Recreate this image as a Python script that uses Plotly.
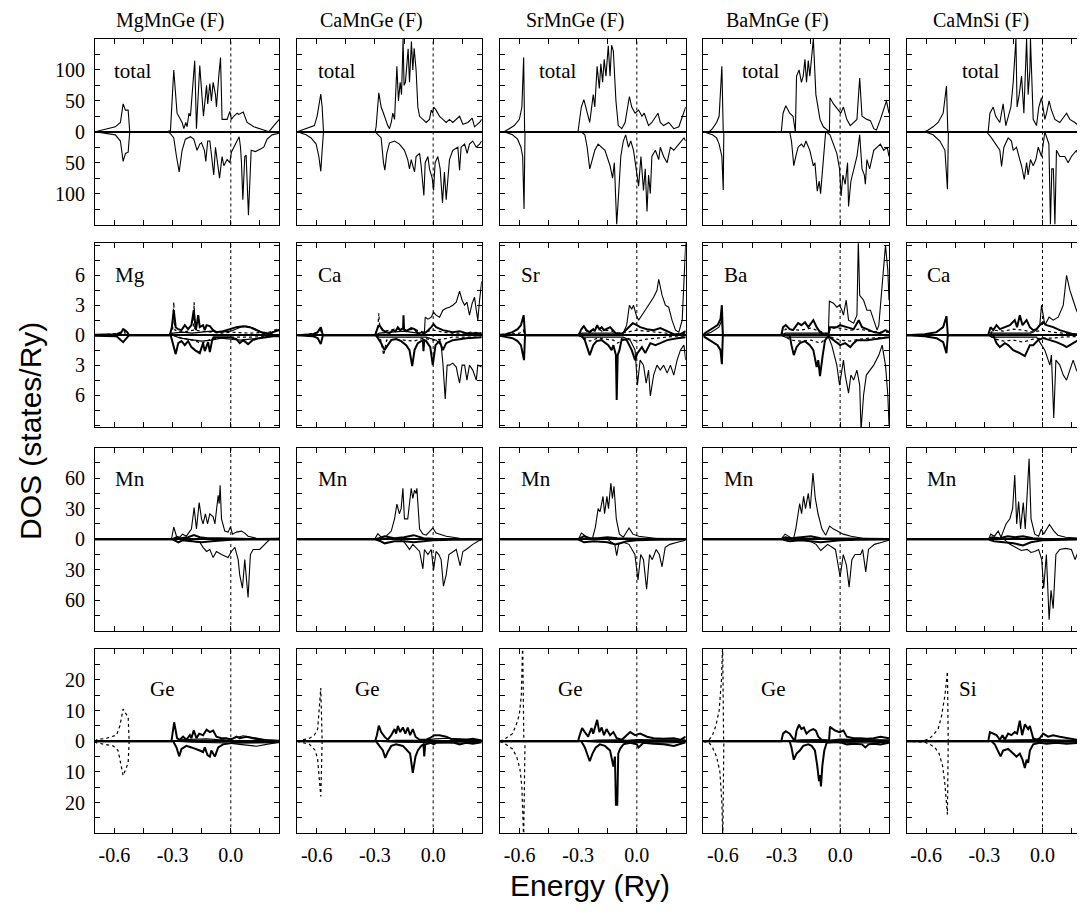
import plotly.graph_objects as go

# ---------------- labels ----------------
compounds = ["MgMnGe (F)", "CaMnGe (F)", "SrMnGe (F)", "BaMnGe (F)", "CaMnSi (F)"]
a_labels = ["Mg", "Ca", "Sr", "Ba", "Ca"]
x_labels = ["Ge", "Ge", "Ge", "Ge", "Si"]
x_tick_vals = [-0.6, -0.45, -0.3, -0.15, 0.0, 0.15]
x_tick_text = ["-0.6", "", "-0.3", "", "0.0", ""]
y_limits = [150, 9.2, 90, 30]
y_minor_steps = [25, 1.5, 15, 5]
y_labelled = [[0, 50, 100], [0, 3, 6], [0, 30, 60], [0, 10, 20]]

# ---------------- data: (energy Ry, DOS states/Ry); *_dn are spin-down magnitudes ----------------
# total DOS
tot_mg_up = [(-0.70,0),(-0.595,8),(-0.569,15),(-0.555,45),(-0.543,35),(-0.529,35),(-0.521,0),(-0.328,0),(-0.311,2),(-0.294,100),(-0.277,30),(-0.251,15),(-0.242,5),(-0.232,15),(-0.225,8),(-0.216,30),(-0.208,25),(-0.186,115),(-0.177,5),(-0.160,107),(-0.141,25),(-0.125,75),(-0.119,45),(-0.108,78),(-0.100,50),(-0.091,80),(-0.079,60),(-0.074,40),(-0.062,90),(-0.053,120),(-0.045,20),(-0.019,20),(-0.005,33),(0.003,20),(0.015,25),(0.033,30),(0.041,28),(0.064,32),(0.084,15),(0.119,8),(0.170,3),(0.196,0),(0.222,10),(0.25,20)]
tot_mg_dn = [(-0.70,0),(-0.595,5),(-0.569,15),(-0.555,48),(-0.543,35),(-0.529,33),(-0.521,0),(-0.328,0),(-0.311,3),(-0.294,10),(-0.280,40),(-0.266,65),(-0.251,30),(-0.234,12),(-0.208,8),(-0.191,12),(-0.174,30),(-0.160,20),(-0.151,18),(-0.136,30),(-0.129,48),(-0.119,15),(-0.108,15),(-0.088,70),(-0.079,25),(-0.070,50),(-0.058,75),(-0.045,40),(-0.036,55),(-0.019,45),(-0.005,50),(0.003,33),(0.015,25),(0.033,12),(0.043,8),(0.050,25),(0.055,50),(0.062,110),(0.072,40),(0.079,38),(0.084,70),(0.091,135),(0.105,30),(0.127,32),(0.153,28),(0.170,25),(0.187,12),(0.213,5),(0.253,2)]
tot_ca_up = [(-0.70,0),(-0.655,5),(-0.629,8),(-0.612,10),(-0.598,25),(-0.588,45),(-0.579,61),(-0.572,40),(-0.565,0),(-0.299,0),(-0.294,8),(-0.280,63),(-0.268,40),(-0.256,30),(-0.246,20),(-0.234,10),(-0.225,5),(-0.216,15),(-0.208,30),(-0.199,20),(-0.187,106),(-0.179,50),(-0.170,80),(-0.163,60),(-0.155,150),(-0.150,75),(-0.143,80),(-0.129,134),(-0.122,80),(-0.112,146),(-0.105,100),(-0.098,135),(-0.088,100),(-0.079,40),(-0.070,25),(-0.053,20),(-0.036,15),(-0.019,20),(-0.010,35),(-0.002,30),(0.003,40),(0.015,35),(0.033,25),(0.050,20),(0.067,15),(0.084,20),(0.101,15),(0.136,25),(0.153,12),(0.179,15),(0.201,22),(0.213,8),(0.239,15),(0.25,20)]
tot_ca_dn = [(-0.70,0),(-0.655,5),(-0.629,10),(-0.603,20),(-0.589,40),(-0.579,64),(-0.572,30),(-0.565,0),(-0.299,0),(-0.285,5),(-0.268,10),(-0.256,50),(-0.249,62),(-0.239,35),(-0.225,18),(-0.199,15),(-0.174,20),(-0.148,30),(-0.131,45),(-0.122,60),(-0.113,45),(-0.105,55),(-0.096,65),(-0.088,40),(-0.070,35),(-0.062,55),(-0.048,103),(-0.041,50),(-0.027,40),(-0.019,60),(-0.005,75),(0.002,95),(0.010,50),(0.024,40),(0.036,60),(0.048,115),(0.058,65),(0.067,110),(0.076,70),(0.084,45),(0.101,30),(0.127,25),(0.136,62),(0.144,25),(0.162,20),(0.175,35),(0.187,20),(0.204,15),(0.222,25),(0.239,20),(0.25,15)]
tot_sr_up = [(-0.70,0),(-0.679,0),(-0.653,5),(-0.627,10),(-0.601,20),(-0.588,40),(-0.579,120),(-0.574,0),(-0.301,0),(-0.284,40),(-0.271,52),(-0.258,35),(-0.241,15),(-0.223,60),(-0.215,40),(-0.203,106),(-0.192,70),(-0.184,110),(-0.175,80),(-0.167,117),(-0.158,90),(-0.146,139),(-0.137,90),(-0.129,140),(-0.120,130),(-0.107,50),(-0.095,10),(-0.077,5),(-0.060,15),(-0.038,57),(-0.026,40),(-0.009,30),(0.009,35),(0.026,25),(0.038,30),(0.060,10),(0.077,15),(0.108,30),(0.120,15),(0.137,10),(0.163,15),(0.189,5),(0.215,8),(0.25,40)]
tot_sr_dn = [(-0.70,0),(-0.679,0),(-0.636,5),(-0.610,12),(-0.593,25),(-0.584,40),(-0.577,125),(-0.572,0),(-0.284,0),(-0.266,5),(-0.254,25),(-0.241,60),(-0.232,50),(-0.215,30),(-0.198,20),(-0.180,25),(-0.163,30),(-0.137,55),(-0.124,75),(-0.115,50),(-0.103,150),(-0.093,100),(-0.082,40),(-0.069,15),(-0.057,5),(-0.043,25),(-0.031,15),(-0.017,30),(-0.009,50),(0.009,88),(0.021,40),(0.034,95),(0.043,60),(0.052,129),(0.060,70),(0.069,100),(0.077,40),(0.095,30),(0.112,45),(0.120,25),(0.137,40),(0.155,50),(0.172,25),(0.189,30),(0.215,20),(0.241,10),(0.25,15)]
tot_ba_up = [(-0.70,0),(-0.670,0),(-0.653,5),(-0.632,15),(-0.619,25),(-0.605,106),(-0.598,0),(-0.301,0),(-0.292,30),(-0.278,42),(-0.258,30),(-0.241,25),(-0.229,0),(-0.223,90),(-0.210,100),(-0.198,80),(-0.189,90),(-0.180,117),(-0.172,80),(-0.163,115),(-0.155,90),(-0.137,150),(-0.124,60),(-0.103,20),(-0.086,8),(-0.069,3),(-0.055,0),(-0.052,55),(-0.034,45),(-0.009,35),(0.003,30),(0.017,40),(0.034,20),(0.052,10),(0.069,15),(0.086,20),(0.100,87),(0.112,25),(0.137,20),(0.155,18),(0.172,5),(0.186,3),(0.206,20),(0.237,50),(0.25,30)]
tot_ba_dn = [(-0.70,0),(-0.653,5),(-0.632,10),(-0.619,20),(-0.605,40),(-0.598,94),(-0.595,0),(-0.258,0),(-0.249,15),(-0.237,55),(-0.227,40),(-0.215,25),(-0.198,20),(-0.186,25),(-0.175,15),(-0.155,30),(-0.137,55),(-0.129,50),(-0.117,96),(-0.107,80),(-0.100,100),(-0.089,60),(-0.082,30),(-0.074,0),(-0.052,5),(-0.034,20),(-0.017,35),(-0.003,60),(0.005,104),(0.014,70),(0.026,85),(0.038,50),(0.043,121),(0.055,80),(0.069,60),(0.086,40),(0.100,5),(0.112,60),(0.124,70),(0.129,85),(0.137,45),(0.151,60),(0.172,30),(0.189,25),(0.206,20),(0.223,30),(0.241,25),(0.25,40)]
tot_si_up = [(-0.70,0),(-0.607,0),(-0.589,3),(-0.564,8),(-0.538,15),(-0.512,30),(-0.495,74),(-0.488,0),(-0.280,0),(-0.271,30),(-0.254,40),(-0.241,25),(-0.220,15),(-0.203,45),(-0.189,10),(-0.177,25),(-0.163,40),(-0.151,80),(-0.137,150),(-0.131,40),(-0.120,60),(-0.108,90),(-0.096,30),(-0.082,150),(-0.074,60),(-0.065,100),(-0.062,150),(-0.048,20),(-0.031,10),(-0.019,40),(-0.005,55),(0.012,20),(0.021,30),(0.034,50),(0.046,35),(0.064,20),(0.089,15),(0.124,30),(0.141,20),(0.167,15),(0.192,8),(0.22,10)]
tot_si_dn = [(-0.70,0),(-0.607,0),(-0.564,5),(-0.529,15),(-0.503,30),(-0.490,93),(-0.485,0),(-0.289,0),(-0.263,10),(-0.241,20),(-0.220,30),(-0.211,56),(-0.199,25),(-0.177,10),(-0.160,15),(-0.151,30),(-0.134,25),(-0.117,45),(-0.108,55),(-0.094,77),(-0.082,50),(-0.074,70),(-0.062,45),(-0.048,55),(-0.034,45),(-0.022,25),(-0.005,40),(0.012,0),(0.021,10),(0.033,20),(0.041,150),(0.048,60),(0.056,60),(0.064,150),(0.072,30),(0.089,40),(0.115,40),(0.132,50),(0.149,40),(0.175,30),(0.192,45),(0.210,20),(0.22,10)]

# alkaline-earth site (p thick, d thin, s dotted)
a_mg_p_up = [(-0.70,0.05),(-0.589,0.1),(-0.564,0.3),(-0.555,0.6),(-0.546,0.5),(-0.534,0.3),(-0.524,0),(-0.314,0),(-0.304,0.8),(-0.294,2.5),(-0.284,0.8),(-0.271,0.6),(-0.254,0.5),(-0.237,1.0),(-0.220,0.6),(-0.203,1.0),(-0.191,2.5),(-0.180,0.5),(-0.168,2.0),(-0.160,0.8),(-0.143,1.0),(-0.134,0.5),(-0.125,1.0),(-0.108,0.9),(-0.091,0.5),(-0.074,0.3),(-0.040,0.4),(-0.005,0.6),(0.029,0.8),(0.064,0.9),(0.098,0.8),(0.132,0.5),(0.167,0.2),(0.201,0.1),(0.218,0.3),(0.25,0.5)]
a_mg_d_up = [(-0.70,0),(-0.32,0),(-0.30,0.2),(-0.25,0.3),(-0.20,0.2),(-0.15,0.3),(-0.10,0.4),(-0.05,0.3),(0.0,0.4),(0.05,0.8),(0.08,0.9),(0.12,0.7),(0.16,0.3),(0.20,0.2),(0.25,0.6)]
a_mg_s_up = [(-0.70,0),(-0.56,0.2),(-0.55,0.4),(-0.54,0),(-0.32,0),(-0.30,0.5),(-0.294,3.3),(-0.288,0.5),(-0.25,0.3),(-0.193,0.5),(-0.189,3.3),(-0.185,0.5),(-0.15,0.4),(-0.10,0.3),(-0.05,0.2),(0.0,0.3),(0.10,0.2),(0.20,0.3),(0.25,0.7)]
a_mg_p_dn = [(-0.70,0.05),(-0.589,0.1),(-0.555,0.7),(-0.524,0),(-0.31,0),(-0.296,1.0),(-0.284,1.9),(-0.271,0.8),(-0.254,0.6),(-0.237,1.0),(-0.220,0.6),(-0.203,1.2),(-0.185,1.5),(-0.160,1.8),(-0.143,0.8),(-0.134,1.6),(-0.117,0.7),(-0.108,1.7),(-0.096,0.5),(-0.089,0.2),(-0.074,0.2),(-0.048,0.2),(-0.005,0.2),(0.029,0.4),(0.046,0.8),(0.064,0.5),(0.089,0.9),(0.112,0.5),(0.146,0.3),(0.218,0.1),(0.25,0.1)]
a_mg_d_dn = [(-0.70,0),(-0.30,0),(-0.26,0.3),(-0.20,0.5),(-0.15,0.6),(-0.10,0.5),(-0.05,0.3),(0.0,0.4),(0.05,0.5),(0.10,0.4),(0.15,0.3),(0.20,0.1),(0.25,0.1)]
a_mg_s_dn = [(-0.70,0),(-0.30,0),(-0.25,0.3),(-0.20,0.5),(-0.15,0.8),(-0.10,0.4),(-0.05,0.3),(0.0,0.2),(0.10,0.2),(0.25,0.1)]

a_ca_p_up = [(-0.70,0),(-0.620,0.1),(-0.595,0.3),(-0.579,0.8),(-0.568,0),(-0.299,0),(-0.285,0.8),(-0.277,1.0),(-0.260,0.5),(-0.242,0.3),(-0.225,0.2),(-0.208,0.5),(-0.194,0.4),(-0.182,0.8),(-0.170,0.5),(-0.155,0.7),(-0.153,2.0),(-0.150,0.6),(-0.139,0.4),(-0.113,0.7),(-0.096,0.6),(-0.079,0.2),(-0.062,0.0),(-0.036,0.3),(-0.010,0.8),(0.002,1.1),(0.015,0.8),(0.050,0.5),(0.101,0.3),(0.136,0.4),(0.170,0.2),(0.25,0.2)]
a_ca_d_up = [(-0.70,0),(-0.30,0),(-0.277,0.2),(-0.20,0.3),(-0.15,0.4),(-0.08,0.2),(-0.045,0.3),(-0.041,1.8),(-0.027,1.6),(-0.010,1.8),(0.002,2.3),(0.015,2.0),(0.033,1.8),(0.050,2.5),(0.067,2.7),(0.084,2.8),(0.101,3.0),(0.119,3.3),(0.136,4.4),(0.149,3.5),(0.162,3.0),(0.174,3.3),(0.187,2.0),(0.201,3.2),(0.213,3.8),(0.222,2.5),(0.230,1.5),(0.239,3.5),(0.25,5.4)]
a_ca_s_up = [(-0.70,0),(-0.60,0.2),(-0.58,0.5),(-0.57,0),(-0.30,0),(-0.285,0.8),(-0.280,2.2),(-0.275,0.8),(-0.25,0.4),(-0.20,0.6),(-0.15,0.5),(-0.10,0.6),(-0.05,0.3),(0.0,0.5),(0.05,0.3),(0.10,0.2),(0.15,0.2),(0.20,0.3),(0.25,0.2)]
a_ca_p_dn = [(-0.70,0),(-0.620,0.1),(-0.595,0.3),(-0.579,0.9),(-0.568,0),(-0.294,0),(-0.268,0.8),(-0.251,1.5),(-0.234,1.0),(-0.216,0.5),(-0.191,0.4),(-0.165,0.6),(-0.139,1.0),(-0.122,1.5),(-0.108,3.1),(-0.096,1.5),(-0.079,0.8),(-0.053,0.5),(-0.050,1.6),(-0.046,0.5),(-0.036,0.6),(-0.015,1.2),(-0.002,3.0),(0.012,1.0),(0.033,0.6),(0.050,1.5),(0.067,0.8),(0.101,0.5),(0.170,0.3),(0.25,0.2)]
a_ca_d_dn = [(-0.70,0),(-0.30,0),(-0.277,0.2),(-0.036,0.2),(0.015,0.5),(0.041,1.0),(0.050,2.8),(0.062,6.4),(0.072,3.0),(0.084,3.0),(0.101,2.8),(0.119,3.2),(0.127,4.0),(0.136,4.8),(0.149,3.0),(0.162,3.0),(0.174,4.5),(0.187,3.0),(0.204,3.5),(0.222,4.5),(0.230,3.0),(0.25,3.2)]
a_ca_s_dn = [(-0.70,0),(-0.30,0),(-0.27,0.5),(-0.255,2.0),(-0.24,0.5),(-0.20,0.4),(-0.15,0.5),(-0.10,0.6),(-0.05,0.3),(0.0,0.5),(0.05,0.4),(0.10,0.2),(0.15,0.2),(0.20,0.2),(0.25,0.2)]

a_sr_p_up = [(-0.70,0.05),(-0.670,0.1),(-0.636,0.3),(-0.610,0.6),(-0.593,1.0),(-0.579,2.0),(-0.572,0),(-0.297,0),(-0.284,0.6),(-0.271,0.9),(-0.258,0.5),(-0.241,0.3),(-0.223,0.6),(-0.215,0.4),(-0.203,1.0),(-0.192,0.6),(-0.180,0.8),(-0.168,0.5),(-0.137,0.8),(-0.120,0.4),(-0.103,0.1),(-0.077,0.1),(-0.052,0.6),(-0.034,1.0),(-0.021,1.2),(0.0,1.0),(0.017,0.8),(0.052,0.6),(0.086,0.5),(0.120,0.7),(0.155,0.4),(0.189,0.1),(0.223,0.1),(0.25,0.4)]
a_sr_d_up = [(-0.70,0),(-0.30,0),(-0.28,0.2),(-0.07,0.2),(-0.052,1.0),(-0.038,3.0),(-0.026,2.6),(-0.017,3.0),(-0.003,2.0),(0.009,1.5),(0.026,2.0),(0.043,2.5),(0.060,3.0),(0.086,3.8),(0.103,4.5),(0.112,5.6),(0.129,4.0),(0.146,3.0),(0.163,2.8),(0.180,1.5),(0.198,0.5),(0.215,0.3),(0.232,1.5),(0.25,9.2)]
a_sr_s_up = [(-0.70,0),(-0.60,0.2),(-0.58,0.5),(-0.575,0),(-0.30,0),(-0.275,0.8),(-0.25,0.3),(-0.205,0.8),(-0.18,0.4),(-0.14,0.5),(-0.10,0.2),(-0.05,0.3),(0.0,0.5),(0.05,0.4),(0.10,0.3),(0.15,0.2),(0.20,0.1),(0.25,0.2)]
a_sr_p_dn = [(-0.70,0.05),(-0.636,0.3),(-0.610,0.6),(-0.593,1.0),(-0.577,2.5),(-0.572,0),(-0.284,0),(-0.266,0.5),(-0.241,2.0),(-0.223,1.0),(-0.206,0.6),(-0.180,0.5),(-0.146,1.0),(-0.129,1.5),(-0.120,1.0),(-0.107,2.0),(-0.103,6.5),(-0.098,2.0),(-0.089,1.5),(-0.077,0.4),(-0.052,0.5),(-0.026,1.5),(-0.009,2.5),(0.003,1.8),(0.026,1.2),(0.043,1.8),(0.069,0.8),(0.095,1.0),(0.120,0.8),(0.155,0.5),(0.206,0.3),(0.25,0.2)]
a_sr_d_dn = [(-0.70,0),(-0.30,0),(-0.28,0.2),(-0.07,0.2),(-0.034,0.5),(-0.009,1.5),(0.003,5.0),(0.017,2.5),(0.034,3.0),(0.048,4.8),(0.060,3.5),(0.069,6.1),(0.086,4.0),(0.103,3.0),(0.120,3.5),(0.137,3.0),(0.155,3.8),(0.172,3.0),(0.189,4.0),(0.206,2.5),(0.223,1.5),(0.241,1.0),(0.25,2.5)]
a_sr_s_dn = [(-0.70,0),(-0.30,0),(-0.24,0.6),(-0.20,0.3),(-0.12,0.5),(-0.10,0.8),(-0.05,0.3),(0.0,0.6),(0.05,0.4),(0.10,0.3),(0.20,0.1),(0.25,0.1)]

a_ba_p_up = [(-0.70,0.1),(-0.670,0.5),(-0.627,1.0),(-0.612,1.6),(-0.605,3.0),(-0.600,0),(-0.301,0),(-0.292,0.8),(-0.278,1.0),(-0.258,0.6),(-0.241,0.5),(-0.215,1.2),(-0.198,1.0),(-0.180,1.3),(-0.163,0.8),(-0.137,1.5),(-0.120,0.8),(-0.103,0.3),(-0.086,0.1),(-0.060,0.0),(-0.052,0.8),(-0.017,0.8),(0.0,1.0),(0.034,0.8),(0.069,0.6),(0.095,1.5),(0.112,0.8),(0.137,0.6),(0.172,0.3),(0.206,0.2),(0.232,0.5),(0.25,0.3)]
a_ba_d_up = [(-0.70,0),(-0.66,0.3),(-0.62,0.8),(-0.605,1.5),(-0.60,0),(-0.30,0),(-0.28,0.2),(-0.06,0.2),(-0.055,3.4),(-0.034,3.2),(-0.017,2.8),(-0.003,3.0),(0.009,2.5),(0.017,2.0),(0.031,3.5),(0.043,1.5),(0.069,1.2),(0.086,2.0),(0.093,9.5),(0.100,4.0),(0.120,3.5),(0.137,2.5),(0.155,2.5),(0.172,1.5),(0.189,0.5),(0.198,1.0),(0.210,4.0),(0.223,7.0),(0.232,9.0),(0.244,6.5),(0.25,3.5)]
a_ba_s_up = [(-0.70,0),(-0.30,0),(-0.28,0.6),(-0.20,0.5),(-0.15,0.7),(-0.10,0.4),(-0.06,0.1),(-0.05,0.7),(0.0,0.7),(0.05,0.5),(0.10,0.6),(0.15,0.4),(0.20,0.3),(0.25,0.3)]
a_ba_p_dn = [(-0.70,0.1),(-0.670,0.5),(-0.627,1.0),(-0.612,1.5),(-0.605,2.9),(-0.600,0),(-0.258,0),(-0.249,1.0),(-0.237,2.0),(-0.223,1.2),(-0.206,0.8),(-0.180,0.6),(-0.155,1.0),(-0.137,1.5),(-0.120,3.2),(-0.112,2.5),(-0.103,4.1),(-0.089,2.0),(-0.077,0.5),(-0.060,0.1),(-0.034,0.5),(0.0,1.0),(0.026,0.8),(0.052,1.2),(0.069,0.8),(0.086,0.5),(0.137,0.5),(0.206,0.3),(0.25,0.2)]
a_ba_d_dn = [(-0.70,0),(-0.30,0),(-0.28,0.2),(-0.06,0.2),(-0.043,1.0),(-0.017,3.0),(-0.003,5.0),(0.009,3.5),(0.017,2.5),(0.026,4.0),(0.043,5.8),(0.055,4.0),(0.069,4.5),(0.086,3.5),(0.100,5.0),(0.107,9.5),(0.120,6.0),(0.134,4.0),(0.155,3.5),(0.172,3.0),(0.198,2.0),(0.215,1.0),(0.232,3.0),(0.244,6.0),(0.25,9.0)]
a_ba_s_dn = [(-0.70,0),(-0.30,0),(-0.25,0.5),(-0.20,0.6),(-0.15,0.5),(-0.10,0.8),(-0.06,0.1),(0.0,0.5),(0.05,0.6),(0.10,0.4),(0.15,0.3),(0.25,0.2)]

a_si_p_up = [(-0.70,0),(-0.607,0.1),(-0.546,0.3),(-0.512,0.8),(-0.495,1.9),(-0.488,0),(-0.280,0),(-0.268,0.8),(-0.254,0.5),(-0.237,1.0),(-0.220,0.6),(-0.194,0.8),(-0.168,1.0),(-0.143,1.5),(-0.131,0.8),(-0.117,2.0),(-0.103,1.0),(-0.082,1.5),(-0.065,0.8),(-0.048,0.5),(-0.031,0.6),(-0.014,1.0),(0.003,1.3),(0.021,1.0),(0.055,0.8),(0.089,0.5),(0.124,0.3),(0.158,0.1),(0.22,0.1)]
a_si_d_up = [(-0.70,0),(-0.28,0),(-0.26,0.2),(-0.06,0.2),(-0.031,0.5),(-0.014,1.0),(-0.005,3.0),(0.012,1.0),(0.034,1.8),(0.055,1.5),(0.081,1.8),(0.107,3.0),(0.124,6.0),(0.141,4.5),(0.158,3.5),(0.175,2.5),(0.192,1.8),(0.22,1.5)]
a_si_s_up = [(-0.70,0),(-0.28,0),(-0.25,0.5),(-0.20,0.4),(-0.15,0.6),(-0.10,0.5),(-0.05,0.3),(0.0,0.5),(0.05,0.3),(0.10,0.2),(0.22,0.1)]
a_si_p_dn = [(-0.70,0),(-0.607,0.1),(-0.546,0.3),(-0.512,0.7),(-0.495,1.8),(-0.488,0),(-0.254,0),(-0.237,0.8),(-0.220,1.2),(-0.194,0.8),(-0.177,1.0),(-0.151,1.5),(-0.117,1.8),(-0.091,2.1),(-0.065,1.0),(-0.048,1.0),(-0.022,0.5),(0.003,0.3),(0.038,0.5),(0.072,0.7),(0.107,1.0),(0.124,1.2),(0.158,0.8),(0.192,0.4),(0.22,0.2)]
a_si_d_dn = [(-0.70,0),(-0.28,0),(-0.26,0.2),(-0.03,0.2),(0.012,1.5),(0.038,3.0),(0.046,2.0),(0.058,8.3),(0.069,2.5),(0.089,3.0),(0.107,4.0),(0.124,4.5),(0.141,3.5),(0.158,2.5),(0.175,3.5),(0.192,4.0),(0.210,2.5),(0.22,1.8)]
a_si_s_dn = [(-0.70,0),(-0.28,0),(-0.24,0.4),(-0.20,0.6),(-0.15,0.5),(-0.10,0.7),(-0.05,0.4),(0.0,0.3),(0.05,0.3),(0.10,0.2),(0.22,0.1)]

# Mn site (d thin, other thick)
mn_mg_d_up = [(-0.70,0),(-0.56,0.5),(-0.55,0),(-0.306,0),(-0.294,12),(-0.280,3),(-0.263,2),(-0.249,5),(-0.229,3),(-0.203,10),(-0.189,31),(-0.177,10),(-0.163,36),(-0.151,20),(-0.143,15),(-0.131,25),(-0.120,15),(-0.108,25),(-0.091,22),(-0.082,15),(-0.065,43),(-0.060,35),(-0.055,53),(-0.048,20),(-0.031,8),(-0.014,7),(-0.002,12),(0.009,5),(0.029,7),(0.055,8),(0.072,6),(0.089,3),(0.132,1),(0.218,0.5),(0.25,1)]
mn_mg_d_dn = [(-0.70,0),(-0.229,0),(-0.194,2),(-0.160,3),(-0.143,8),(-0.125,12),(-0.108,10),(-0.091,18),(-0.074,12),(-0.048,15),(-0.014,18),(0.003,12),(0.021,8),(0.038,20),(0.046,35),(0.060,48),(0.072,20),(0.089,57),(0.101,15),(0.115,10),(0.149,10),(0.175,5),(0.201,0),(0.25,0)]
mn_mg_o_up = [(-0.70,0),(-0.30,0),(-0.28,2),(-0.26,1),(-0.22,2),(-0.19,4),(-0.16,2),(-0.12,1),(-0.06,1),(0.0,0.5),(0.10,0.3),(0.25,0.5)]
mn_mg_o_dn = [(-0.70,0),(-0.30,0),(-0.27,3),(-0.25,1),(-0.20,2),(-0.15,3),(-0.10,2),(-0.05,1),(0.0,0.5),(0.10,0.3),(0.25,0.3)]
mn_ca_d_up = [(-0.70,0),(-0.302,0),(-0.285,5.5),(-0.268,2),(-0.242,3),(-0.216,8),(-0.199,20),(-0.187,34.5),(-0.174,25),(-0.165,30),(-0.156,50),(-0.148,20),(-0.131,20),(-0.113,50),(-0.105,40),(-0.096,48),(-0.088,45),(-0.084,50),(-0.070,10),(-0.053,5),(-0.036,4),(-0.019,8),(-0.002,11),(0.015,6),(0.033,5),(0.067,3),(0.136,1),(0.239,0),(0.25,0)]
mn_ca_d_dn = [(-0.70,0),(-0.174,0),(-0.148,3),(-0.122,10),(-0.105,5),(-0.088,8),(-0.070,12),(-0.053,29),(-0.045,10),(-0.027,15),(-0.010,10),(0.002,30),(0.015,12),(0.029,15),(0.041,20),(0.053,46),(0.067,35),(0.081,15),(0.101,12),(0.119,10),(0.139,26),(0.153,12),(0.170,10),(0.204,5),(0.239,1),(0.25,1)]
mn_ca_o_up = [(-0.70,0),(-0.30,0),(-0.28,1),(-0.25,3),(-0.20,1),(-0.15,2),(-0.10,4),(-0.05,1),(0.0,0.5),(0.10,0.3),(0.25,0.2)]
mn_ca_o_dn = [(-0.70,0),(-0.30,0),(-0.27,2),(-0.25,4),(-0.20,2),(-0.15,2),(-0.10,3),(-0.05,2),(0.0,1),(0.10,0.5),(0.25,0.2)]
mn_sr_d_up = [(-0.70,0),(-0.298,0),(-0.284,6),(-0.268,4),(-0.248,0),(-0.228,0),(-0.212,12),(-0.198,30),(-0.188,27),(-0.173,42),(-0.165,25),(-0.153,42),(-0.145,30),(-0.133,55),(-0.125,40),(-0.117,52),(-0.105,20),(-0.089,5),(-0.069,2),(-0.040,11),(-0.020,5),(0.010,3),(0.050,2),(0.109,0.5),(0.25,0)]
mn_sr_d_dn = [(-0.70,0),(-0.149,0),(-0.129,3),(-0.113,5),(-0.103,16),(-0.093,5),(-0.069,3),(-0.040,5),(-0.010,15),(0.006,40),(0.020,15),(0.034,20),(0.050,49),(0.065,15),(0.079,20),(0.099,10),(0.115,15),(0.129,27),(0.145,8),(0.169,5),(0.208,3),(0.25,1)]
mn_sr_o_up = [(-0.70,0),(-0.30,0),(-0.27,3),(-0.24,1),(-0.20,1),(-0.15,2),(-0.10,1),(0.0,0.5),(0.25,0.2)]
mn_sr_o_dn = [(-0.70,0),(-0.30,0),(-0.27,3),(-0.22,2),(-0.15,3),(-0.11,5),(-0.05,2),(0.0,1),(0.10,0.5),(0.25,0.2)]
mn_ba_d_up = [(-0.70,0),(-0.302,0),(-0.282,5),(-0.262,3),(-0.239,0),(-0.227,10),(-0.207,35),(-0.197,25),(-0.187,42),(-0.177,30),(-0.163,45),(-0.153,30),(-0.139,65),(-0.127,40),(-0.113,25),(-0.093,10),(-0.074,4),(-0.054,13),(-0.034,10),(-0.014,8),(0.016,5),(0.056,3),(0.115,1),(0.245,0),(0.25,0)]
mn_ba_d_dn = [(-0.70,0),(-0.183,0),(-0.143,3),(-0.123,5),(-0.099,11),(-0.083,8),(-0.064,5),(-0.024,10),(0.0,37),(0.016,15),(0.032,25),(0.046,47),(0.060,20),(0.076,15),(0.105,15),(0.115,10),(0.131,32),(0.145,10),(0.175,5),(0.215,3),(0.25,1)]
mn_ba_o_up = [(-0.70,0),(-0.30,0),(-0.28,2),(-0.25,1),(-0.20,2),(-0.15,3),(-0.10,1),(-0.05,1),(0.0,0.5),(0.25,0.3)]
mn_ba_o_dn = [(-0.70,0),(-0.30,0),(-0.26,2),(-0.20,1),(-0.15,2),(-0.10,3),(-0.05,2),(0.0,1),(0.10,0.5),(0.25,0.3)]
mn_si_d_up = [(-0.70,0),(-0.277,0),(-0.267,5),(-0.248,3),(-0.228,8),(-0.214,2),(-0.202,8),(-0.188,15),(-0.168,20),(-0.154,30),(-0.143,63),(-0.133,15),(-0.123,37),(-0.113,10),(-0.099,36),(-0.089,10),(-0.069,79),(-0.059,20),(-0.040,5),(-0.020,3),(-0.006,10),(0.006,5),(0.036,14.5),(0.059,8),(0.079,4),(0.119,2),(0.198,1),(0.22,1)]
mn_si_d_dn = [(-0.70,0),(-0.198,0),(-0.168,5),(-0.139,8),(-0.109,11),(-0.079,10),(-0.059,13),(-0.040,12),(-0.020,10),(-0.004,20),(0.006,48),(0.020,15),(0.034,79),(0.044,50),(0.055,68),(0.069,15),(0.089,10),(0.119,9),(0.149,10),(0.168,20),(0.188,10),(0.208,8),(0.22,8)]
mn_si_o_up = [(-0.70,0),(-0.28,0),(-0.26,2),(-0.22,1),(-0.18,3),(-0.14,2),(-0.10,3),(-0.05,1),(0.0,0.5),(0.22,0.2)]
mn_si_o_dn = [(-0.70,0),(-0.28,0),(-0.25,2),(-0.20,3),(-0.15,4),(-0.10,6),(-0.06,3),(0.0,1),(0.10,0.5),(0.22,0.2)]

# Ge / Si site (s dotted, p thick, d thin)
x_mg_s_up = [(-0.70,0),(-0.692,0.5),(-0.641,1.0),(-0.607,1.5),(-0.589,2.0),(-0.572,5.0),(-0.555,10.5),(-0.541,9.0),(-0.529,8.0),(-0.524,0)]
x_mg_s_dn = [(-0.70,0),(-0.692,0.5),(-0.649,1.0),(-0.607,1.5),(-0.581,3.0),(-0.555,11.2),(-0.541,9.0),(-0.529,7.0),(-0.524,0)]
x_mg_p_up = [(-0.70,0),(-0.306,0),(-0.292,6.2),(-0.277,1),(-0.263,0.5),(-0.246,1.5),(-0.229,0.5),(-0.211,2),(-0.203,1),(-0.191,3.6),(-0.177,1),(-0.163,2.5),(-0.143,2),(-0.125,3.8),(-0.108,3),(-0.091,3.5),(-0.074,1.5),(-0.048,1),(-0.022,1),(0.0,0.5),(0.029,1.5),(0.046,1),(0.081,1.5),(0.115,1),(0.149,0.5),(0.25,0)]
x_mg_d_up = [(-0.70,0),(-0.30,0),(-0.263,0.5),(-0.125,0.8),(-0.057,0.5),(0.012,1.0),(0.064,1.8),(0.115,1.2),(0.184,0.5),(0.25,0.3)]
x_mg_p_dn = [(-0.70,0),(-0.297,0),(-0.280,2),(-0.266,4.9),(-0.254,2.5),(-0.229,1.5),(-0.203,2),(-0.177,2.5),(-0.160,3),(-0.143,3.5),(-0.134,2),(-0.120,4.5),(-0.108,5),(-0.100,3),(-0.082,5),(-0.065,2),(-0.040,1),(0.012,0.5),(0.081,0.4),(0.25,0.3)]
x_mg_d_dn = [(-0.70,0),(-0.30,0),(-0.20,0.3),(-0.05,0.3),(-0.02,0.5),(0.046,1.0),(0.098,1.5),(0.132,1.6),(0.184,1.0),(0.25,0.3)]
x_ca_s_up = [(-0.70,0),(-0.672,0.5),(-0.637,1),(-0.612,2),(-0.595,4),(-0.579,17.4),(-0.572,0)]
x_ca_s_dn = [(-0.70,0),(-0.672,0.5),(-0.637,1),(-0.607,3),(-0.595,6),(-0.579,18),(-0.572,0)]
x_ca_p_up = [(-0.70,0),(-0.299,0),(-0.290,2),(-0.280,5.1),(-0.268,3),(-0.251,1.5),(-0.234,0.5),(-0.216,2),(-0.199,4),(-0.191,2.5),(-0.182,5),(-0.170,3),(-0.156,4.5),(-0.143,2.5),(-0.131,4.5),(-0.119,2),(-0.105,4),(-0.091,1.5),(-0.070,0.5),(-0.036,0.5),(-0.019,1),(0.007,2),(0.033,2),(0.067,1.5),(0.101,0.5),(0.136,0.5),(0.170,0.5),(0.204,0.8),(0.25,0.3)]
x_ca_d_up = [(-0.70,0),(-0.30,0),(-0.19,0.3),(-0.07,0.3),(0.015,0.8),(0.067,1.0),(0.136,0.8),(0.204,0.5),(0.25,0.3)]
x_ca_p_dn = [(-0.70,0),(-0.294,0),(-0.277,1.5),(-0.259,3),(-0.247,5.4),(-0.234,3.5),(-0.216,1.5),(-0.191,1),(-0.156,1.5),(-0.131,3),(-0.119,4),(-0.105,10.3),(-0.091,5),(-0.079,3),(-0.062,1.5),(-0.050,1.0),(-0.046,4.9),(-0.041,1.0),(-0.010,0.5),(0.002,1),(0.015,0.5),(0.101,0.3),(0.136,1),(0.170,0.5),(0.204,0.8),(0.25,0.3)]
x_ca_d_dn = [(-0.70,0),(-0.30,0),(-0.20,0.3),(-0.05,0.4),(0.05,0.6),(0.15,0.5),(0.25,0.2)]
x_sr_s_up = [(-0.70,0),(-0.670,1),(-0.636,2.5),(-0.619,5),(-0.601,8.7),(-0.591,15),(-0.584,32),(-0.578,0)]
x_sr_s_dn = [(-0.70,0),(-0.670,1),(-0.636,2.5),(-0.615,5),(-0.598,9),(-0.588,15),(-0.579,32),(-0.572,0)]
x_sr_p_up = [(-0.70,0),(-0.301,0),(-0.292,2),(-0.280,4.3),(-0.266,3),(-0.249,1.5),(-0.232,4.3),(-0.223,2.5),(-0.203,7),(-0.192,3),(-0.180,4.5),(-0.168,2),(-0.155,4),(-0.137,2),(-0.120,3),(-0.103,1),(-0.077,0.5),(-0.052,2),(-0.034,3),(-0.009,2),(0.017,2.5),(0.052,1.5),(0.086,1),(0.137,0.8),(0.189,1),(0.223,0.5),(0.25,1.5)]
x_sr_d_up = [(-0.70,0),(-0.30,0),(-0.20,0.4),(-0.10,0.5),(-0.05,0.3),(0.0,0.6),(0.10,0.5),(0.20,0.4),(0.25,0.5)]
x_sr_p_dn = [(-0.70,0),(-0.284,0),(-0.266,2),(-0.249,5),(-0.241,6.5),(-0.227,4),(-0.210,2),(-0.189,1),(-0.163,1.5),(-0.137,3),(-0.120,8.2),(-0.112,5),(-0.107,20.7),(-0.100,20.7),(-0.095,4),(-0.086,2.5),(-0.069,1),(-0.034,0.5),(0.0,1),(0.009,2),(0.034,0.5),(0.086,0.8),(0.137,1),(0.189,1.5),(0.223,0.8),(0.25,0.3)]
x_sr_d_dn = [(-0.70,0),(-0.30,0),(-0.20,0.3),(-0.05,0.4),(0.05,0.6),(0.15,0.5),(0.25,0.3)]
x_ba_s_up = [(-0.70,0),(-0.670,0.5),(-0.653,2),(-0.636,5),(-0.619,10),(-0.607,20),(-0.601,32),(-0.596,0)]
x_ba_s_dn = [(-0.70,0),(-0.670,0.5),(-0.653,2),(-0.632,5),(-0.615,10),(-0.605,20),(-0.600,32),(-0.595,0)]
x_ba_p_up = [(-0.70,0),(-0.301,0),(-0.292,2.5),(-0.278,3.3),(-0.258,2.5),(-0.241,1),(-0.232,0),(-0.223,3.5),(-0.210,5.4),(-0.198,4),(-0.186,4.5),(-0.172,2.5),(-0.155,3.5),(-0.137,4),(-0.124,3.5),(-0.112,1.5),(-0.095,0.5),(-0.069,0.2),(-0.057,0),(-0.052,4.7),(-0.026,3.5),(-0.003,3),(0.017,3.5),(0.034,1.5),(0.069,1),(0.103,1),(0.137,0.8),(0.172,1),(0.206,1.5),(0.25,1)]
x_ba_d_up = [(-0.70,0),(-0.30,0),(-0.20,0.5),(-0.10,0.6),(-0.05,0.4),(0.0,0.7),(0.10,0.6),(0.20,0.4),(0.25,0.5)]
x_ba_p_dn = [(-0.70,0),(-0.258,0),(-0.249,2),(-0.237,6),(-0.223,4),(-0.206,3),(-0.189,1.5),(-0.163,1),(-0.146,1.5),(-0.129,3),(-0.117,8),(-0.108,13),(-0.103,11),(-0.098,14.7),(-0.091,8),(-0.081,3),(-0.069,0.5),(-0.017,0.2),(0.009,0.5),(0.034,1),(0.069,0.8),(0.112,1),(0.129,2),(0.146,1),(0.172,0.8),(0.206,1),(0.25,0.5)]
x_ba_d_dn = [(-0.70,0),(-0.30,0),(-0.20,0.3),(-0.05,0.4),(0.05,0.5),(0.15,0.5),(0.25,0.3)]
x_si_s_up = [(-0.70,0),(-0.607,0.3),(-0.581,1),(-0.564,2),(-0.538,4),(-0.521,8),(-0.503,15),(-0.490,22.8),(-0.486,0)]
x_si_s_dn = [(-0.70,0),(-0.607,0.3),(-0.581,1),(-0.555,2),(-0.533,4),(-0.515,8),(-0.503,14),(-0.490,23.9),(-0.486,0)]
x_si_p_up = [(-0.70,0),(-0.280,0),(-0.271,3),(-0.254,2.5),(-0.237,2),(-0.220,0.5),(-0.206,2),(-0.194,0.5),(-0.177,2.5),(-0.160,2),(-0.143,3),(-0.131,2.5),(-0.117,6.7),(-0.105,2),(-0.091,5.5),(-0.074,4),(-0.065,5),(-0.048,1),(-0.031,0.5),(-0.014,1),(0.003,2.5),(0.029,1.5),(0.055,2),(0.089,1.5),(0.124,1),(0.175,0.5),(0.22,0.3)]
x_si_d_up = [(-0.70,0),(-0.28,0),(-0.20,0.4),(-0.10,0.5),(0.0,0.6),(0.10,0.4),(0.22,0.3)]
x_si_p_dn = [(-0.70,0),(-0.263,0),(-0.246,1),(-0.229,3.5),(-0.216,4.9),(-0.203,3),(-0.177,2.5),(-0.151,4),(-0.134,5),(-0.117,4),(-0.103,6),(-0.091,8.7),(-0.082,6),(-0.074,7),(-0.065,3),(-0.048,1),(-0.014,0.5),(0.021,0.8),(0.072,0.5),(0.124,0.8),(0.175,0.5),(0.22,0.3)]
x_si_d_dn = [(-0.70,0),(-0.28,0),(-0.20,0.3),(-0.05,0.4),(0.05,0.4),(0.15,0.3),(0.22,0.2)]

# ---------------- style / geometry ----------------
THIN = dict(color="black", width=1.1)
THICK = dict(color="black", width=2.0)
DOT = dict(color="black", width=1.2, dash="dot")

panels = [
    [[(tot_mg_up, tot_mg_dn, THIN)], [(tot_ca_up, tot_ca_dn, THIN)], [(tot_sr_up, tot_sr_dn, THIN)],
     [(tot_ba_up, tot_ba_dn, THIN)], [(tot_si_up, tot_si_dn, THIN)]],
    [[(a_mg_s_up, a_mg_s_dn, DOT), (a_mg_d_up, a_mg_d_dn, THIN), (a_mg_p_up, a_mg_p_dn, THICK)],
     [(a_ca_s_up, a_ca_s_dn, DOT), (a_ca_d_up, a_ca_d_dn, THIN), (a_ca_p_up, a_ca_p_dn, THICK)],
     [(a_sr_s_up, a_sr_s_dn, DOT), (a_sr_d_up, a_sr_d_dn, THIN), (a_sr_p_up, a_sr_p_dn, THICK)],
     [(a_ba_s_up, a_ba_s_dn, DOT), (a_ba_d_up, a_ba_d_dn, THIN), (a_ba_p_up, a_ba_p_dn, THICK)],
     [(a_si_s_up, a_si_s_dn, DOT), (a_si_d_up, a_si_d_dn, THIN), (a_si_p_up, a_si_p_dn, THICK)]],
    [[(mn_mg_o_up, mn_mg_o_dn, THICK), (mn_mg_d_up, mn_mg_d_dn, THIN)],
     [(mn_ca_o_up, mn_ca_o_dn, THICK), (mn_ca_d_up, mn_ca_d_dn, THIN)],
     [(mn_sr_o_up, mn_sr_o_dn, THICK), (mn_sr_d_up, mn_sr_d_dn, THIN)],
     [(mn_ba_o_up, mn_ba_o_dn, THICK), (mn_ba_d_up, mn_ba_d_dn, THIN)],
     [(mn_si_o_up, mn_si_o_dn, THICK), (mn_si_d_up, mn_si_d_dn, THIN)]],
    [[(x_mg_s_up, x_mg_s_dn, DOT), (x_mg_d_up, x_mg_d_dn, THIN), (x_mg_p_up, x_mg_p_dn, THICK)],
     [(x_ca_s_up, x_ca_s_dn, DOT), (x_ca_d_up, x_ca_d_dn, THIN), (x_ca_p_up, x_ca_p_dn, THICK)],
     [(x_sr_s_up, x_sr_s_dn, DOT), (x_sr_d_up, x_sr_d_dn, THIN), (x_sr_p_up, x_sr_p_dn, THICK)],
     [(x_ba_s_up, x_ba_s_dn, DOT), (x_ba_d_up, x_ba_d_dn, THIN), (x_ba_p_up, x_ba_p_dn, THICK)],
     [(x_si_s_up, x_si_s_dn, DOT), (x_si_d_up, x_si_d_dn, THIN), (x_si_p_up, x_si_p_dn, THICK)]],
]

# The page body has an 8px margin: the figure is sized/placed to compensate.
OFF = 8
W, H = 1085 - OFF, 920 - OFF
col_px = [(95, 279.3), (297.3, 481.7), (500, 685.7), (703.3, 889), (906.7, 1085)]
row_px = [(39, 224.5), (243.3, 427), (447.5, 631), (649.3, 833.3)]


def px_x(p):
    return (p - OFF) / W


def px_y(p):
    return 1 - (p - OFF) / H


SERIF = "Liberation Serif, Times New Roman, serif"
SANS = "Liberation Sans, Arial, sans-serif"

fig = go.Figure()
layout = dict(template="none", width=W, height=H, margin=dict(l=0, r=0, t=0, b=0, pad=0, autoexpand=False),
              paper_bgcolor="white", plot_bgcolor="white", showlegend=False,
              font=dict(family=SERIF, size=20, color="black"))
shapes, annotations = [], []

for r in range(4):
    lim = y_limits[r]
    step = y_minor_steps[r]
    nsteps = int(lim // step)
    yvals = [k * step for k in range(-nsteps, nsteps + 1) if abs(k * step) < lim - 1e-9]
    ytext = [(str(int(round(abs(v)))) if any(abs(abs(v) - L) < 1e-6 for L in y_labelled[r]) else "") for v in yvals]
    for c in range(5):
        n = r * 5 + c + 1
        xs = "" if n == 1 else str(n)
        xa, ya = "x" + xs, "y" + xs
        x0p, x1p = col_px[c]
        top, bot = row_px[r]
        xmax = 0.25 if c < 4 else -0.7 + 0.95 * (x1p - x0p) / (279.3 - 95)
        layout["xaxis" + xs] = dict(
            domain=[max(0, px_x(x0p)), min(1, px_x(x1p))], anchor=ya, range=[-0.7, xmax], automargin=False,
            showline=True, linecolor="black", linewidth=1, mirror="allticks",
            ticks="inside", ticklen=5, tickcolor="black", tickwidth=1, tickmode="array",
            tickvals=x_tick_vals, ticktext=x_tick_text, showticklabels=(r == 3),
            ticklabelstandoff=4,
            showgrid=False, zeroline=False,
            tickfont=dict(family=SERIF, size=20, color="black"))
        layout["yaxis" + xs] = dict(
            domain=[px_y(bot), px_y(top)], anchor=xa, range=[-lim, lim], automargin=False,
            showline=True, linecolor="black", linewidth=1,
            mirror=("allticks" if c < 4 else False),
            ticks="inside", ticklen=5, tickcolor="black", tickwidth=1, tickmode="array",
            tickvals=yvals, ticktext=ytext, showticklabels=(c == 0),
            ticklabelstandoff=5,
            showgrid=False, zeroline=True, zerolinecolor="black", zerolinewidth=1.6,
            tickfont=dict(family=SERIF, size=20, color="black"))
        for up, dn, style in panels[r][c]:
            fig.add_trace(go.Scatter(x=[p[0] for p in up], y=[p[1] for p in up], mode="lines",
                                     line=style, xaxis=xa, yaxis=ya, hoverinfo="skip"))
            fig.add_trace(go.Scatter(x=[p[0] for p in dn], y=[-p[1] for p in dn], mode="lines",
                                     line=style, xaxis=xa, yaxis=ya, hoverinfo="skip"))
        shapes.append(dict(type="line", xref=xa, yref=ya + " domain", x0=0, x1=0, y0=0, y1=1,
                           line=dict(color="black", width=1, dash="dot")))

# column titles, anchored at the top edge of the figure so they are not clipped
for c in range(5):
    x0p, x1p = col_px[c]
    annotations.append(dict(text=compounds[c], xref="paper", yref="paper",
                            x=px_x(x0p + 0.405 * 184.4), y=1.0,
                            showarrow=False, xanchor="center", yanchor="top",
                            borderpad=0,
                            font=dict(family=SERIF, size=20, color="black")))

total_label_x = [0.092, 0.103, 0.20, 0.20, 0.30]
x_site_label_x = [0.29, 0.30, 0.30, 0.30, 0.28]
for c in range(5):
    for r, (txt, xd, yd) in enumerate([("total", total_label_x[c], 0.83),
                                        (a_labels[c], 0.10, 0.83),
                                        ("Mn", 0.10, 0.83),
                                        (x_labels[c], x_site_label_x[c], 0.785)]):
        n = r * 5 + c + 1
        xs = "" if n == 1 else str(n)
        annotations.append(dict(text=txt, xref="x" + xs + " domain", yref="y" + xs + " domain",
                                x=xd, y=yd, showarrow=False, xanchor="left", yanchor="middle",
                                font=dict(family=SERIF, size=21, color="black")))

annotations.append(dict(text="DOS (states/Ry)", xref="paper", yref="paper", x=px_x(30), y=px_y(431),
                        textangle=-90, showarrow=False, xanchor="center", yanchor="middle",
                        font=dict(family=SANS, size=30, color="black")))
annotations.append(dict(text="Energy (Ry)", xref="paper", yref="paper", x=px_x(590), y=px_y(885),
                        showarrow=False, xanchor="center", yanchor="middle",
                        font=dict(family=SANS, size=30, color="black")))

layout["shapes"] = shapes
layout["annotations"] = annotations
fig.update_layout(**layout)
fig.write_html("out.html")
